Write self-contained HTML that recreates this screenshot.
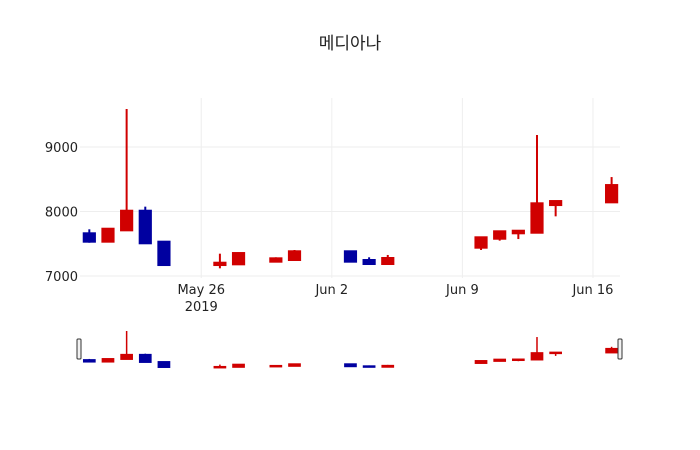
<!DOCTYPE html>
<html><head><meta charset="utf-8"><style>
html,body{margin:0;padding:0;background:#fff;}
svg{display:block;font-family:"DejaVu Sans","Noto Sans CJK KR",sans-serif;}
</style></head><body>
<svg id="chart" width="700" height="450">
<rect width="700" height="450" fill="#fff"/>
<text x="350" y="49" text-anchor="middle" font-size="17" fill="#222" font-family="'DejaVu Sans','Noto Sans CJK KR',sans-serif">메디아나</text>
<g id="grid"></g><g id="marks"></g><g id="axes"></g><g id="slider"></g>
</svg>
<script>
const dates=["2019-05-20","2019-05-21","2019-05-22","2019-05-23","2019-05-24","2019-05-27","2019-05-28","2019-05-30","2019-05-31","2019-06-03","2019-06-04","2019-06-05","2019-06-10","2019-06-11","2019-06-12","2019-06-13","2019-06-14","2019-06-17"];
const openV=[7662,7532,7708,8012,7532,7170,7181,7222,7248,7383,7248,7186,7439,7578,7662,7671,8100,8142];
const highV=[7724,7733,9589,8075,7532,7346,7367,7290,7403,7383,7290,7326,7600,7693,7702,9186,8162,8534];
const lowV=[7516,7527,7708,7507,7170,7119,7181,7222,7238,7222,7186,7186,7403,7548,7573,7671,7925,8142];
const closeV=[7532,7733,8012,7507,7170,7206,7356,7274,7383,7222,7186,7279,7600,7693,7702,8127,8162,8410];
const yTicks=[7000,8000,9000];
const xTicks=[["2019-05-26","May 26","2019"],["2019-06-02","Jun 2",""],["2019-06-09","Jun 9",""],["2019-06-16","Jun 16",""]];
const NS="http://www.w3.org/2000/svg";
const DAY=86400000, t0=Date.parse("2019-05-26");
const L=80,R=620,T=98,B=278;
const dMin=-6.5,dMax=22.45;
function dayOf(s){return (Date.parse(s)-t0)/DAY;}
function x(s){return L+(dayOf(s)-dMin)/(dMax-dMin)*(R-L);}
function y(v){return 276-(v-7000)*0.0645;}
const sMin=7119,sMax=9589;
function ys(v){return 368-(v-sMin)/(sMax-sMin)*37;}
function el(tag,attrs,parent){const e=document.createElementNS(NS,tag);for(const k in attrs)e.setAttribute(k,attrs[k]);parent.appendChild(e);return e;}
const grid=document.getElementById('grid'),marks=document.getElementById('marks'),axes=document.getElementById('axes'),slider=document.getElementById('slider');
yTicks.forEach(v=>{
  const g=el('line',{x1:L,x2:R,y1:y(v),y2:y(v),stroke:'#eee','stroke-width':1},grid);
  
  
  const t=el('text',{x:L-2,y:y(v)+5,'text-anchor':'end','font-size':13,fill:'#222'},axes);
  t.textContent=v;
  
  
});
xTicks.forEach(tk=>{
  const xx=x(tk[0]);
  const g=el('line',{x1:xx,x2:xx,y1:T,y2:B,stroke:'#eee','stroke-width':1},grid);
  
  
  const t=el('text',{x:xx,y:294,'text-anchor':'middle','font-size':13,fill:'#222'},axes);
  t.textContent=tk[1];
  
  
  if(tk[2]){const t2=el('text',{x:xx,y:311,'text-anchor':'middle','font-size':13,fill:'#222'},axes);t2.textContent=tk[2];
  
  }
});
const hw=0.3*(R-L)/(dMax-dMin);
function candle(i,yf,parent,sw){
  const up=closeV[i]>=openV[i];
  const c=up?'#d00000':'#0000a0';
  const g=el('g',{},parent);
  
  
  const xx=x(dates[i]);
  el('line',{x1:xx,x2:xx,y1:yf(highV[i]),y2:yf(lowV[i]),stroke:c,'stroke-width':sw},g);
  const top=yf(Math.max(openV[i],closeV[i])),bot=yf(Math.min(openV[i],closeV[i]));
  el('rect',{x:xx-hw,y:top,width:2*hw,height:Math.max(bot-top,1),fill:c,stroke:c,'stroke-width':sw},g);
}
dates.forEach((d,i)=>candle(i,y,marks,2));
dates.forEach((d,i)=>candle(i,ys,slider,1.5));
[[77],[618]].forEach((p,k)=>{
  const h=el('rect',{x:p[0],y:339,width:4,height:20,rx:1,fill:'#f2f2f2',stroke:'#333','stroke-width':1},slider);
  
  
});
</script>
</body></html>
